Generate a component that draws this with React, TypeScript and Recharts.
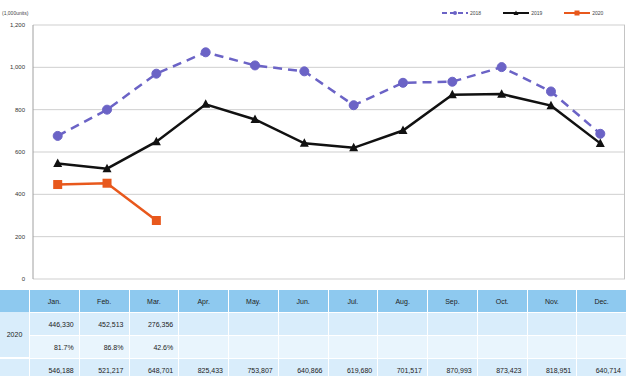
import React from 'react';
import { LineChart, Line, XAxis, YAxis, CartesianGrid } from 'recharts';

const months = ['Jan.', 'Feb.', 'Mar.', 'Apr.', 'May.', 'Jun.', 'Jul.', 'Aug.', 'Sep.', 'Oct.', 'Nov.', 'Dec.'];
const sales2018 = [676, 800, 970, 1071, 1009, 981, 821, 927, 932, 1001, 886, 686];
const sales2019 = [546.188, 521.217, 648.701, 825.433, 753.807, 640.866, 619.68, 701.517, 870.993, 873.423, 818.951, 640.714];
const sales2020 = [446.33, 452.513, 276.356];
const ratio2020 = ['81.7%', '86.8%', '42.6%'];
const yTicks = [0, 200, 400, 600, 800, 1000, 1200];

const data = months.map((m, i) => ({
  month: m,
  y2018: sales2018[i],
  y2019: sales2019[i],
  y2020: i < sales2020.length ? sales2020[i] : null,
}));

const C18 = '#6b63c6';
const C19 = '#111111';
const C20 = '#e8581c';
const FONT = '"Liberation Sans", Arial, sans-serif';

const fmt = (v: number) => Math.round(v * 1000).toLocaleString('en-US');

const CircleDot = (props: any) => {
  const { cx, cy, index } = props;
  if (cx == null || cy == null) return <g key={index} />;
  return <circle key={index} cx={cx} cy={cy} r={4.5} fill={C18} stroke={C18} />;
};

const TriDot = (props: any) => {
  const { cx, cy, index } = props;
  if (cx == null || cy == null) return <g key={index} />;
  return <polygon key={index} points={`${cx},${cy - 5} ${cx - 4.5},${cy + 3.5} ${cx + 4.5},${cy + 3.5}`} fill={C19} />;
};

const SquareDot = (props: any) => {
  const { cx, cy, index } = props;
  if (cx == null || cy == null) return <g key={index} />;
  return <rect key={index} x={cx - 4.5} y={cy - 4.5} width={9} height={9} fill={C20} />;
};

const LegendItem = ({ color, label, dash, marker }: { color: string; label: string; dash?: boolean; marker: string }) => (
  <div style={{ display: 'flex', alignItems: 'center', marginLeft: 22 }}>
    <svg width={26} height={6}>
      <line x1={0} y1={3} x2={26} y2={3} stroke={color} strokeWidth={2} strokeDasharray={dash ? '5 3' : undefined} />
      {marker === 'circle' && <circle cx={13} cy={3} r={2} fill={color} />}
      {marker === 'tri' && <polygon points="13,0.5 10.5,5 15.5,5" fill={color} />}
      {marker === 'sq' && <rect x={10.5} y={0.5} width={5} height={5} fill={color} />}
    </svg>
    <span style={{ fontSize: 5, color: '#444', marginLeft: 2 }}>{label}</span>
  </div>
);

const colW = (627 - 30) / 12;

const Cell = ({ children, bg, align = 'right', w = colW, h = 22 }: any) => (
  <div
    style={{
      width: w,
      height: h,
      background: bg,
      borderRight: '1px solid #ffffff',
      boxSizing: 'border-box',
      display: 'flex',
      alignItems: 'center',
      justifyContent: align === 'center' ? 'center' : 'flex-end',
      paddingRight: align === 'center' ? 0 : 5,
      fontSize: 7,
      color: '#222',
      flexShrink: 0,
    }}
  >
    {children}
  </div>
);

const App: React.FC = () => {
  return (
    <div style={{ position: 'absolute', left: 0, top: 0, width: 627, height: 376, overflow: 'hidden', background: '#fff', fontFamily: FONT }}>
      <div style={{ position: 'absolute', left: 2, top: 10, fontSize: 5, color: '#444' }}>(1,000units)</div>
      <div style={{ position: 'absolute', left: 420, top: 10, display: 'flex' }}>
        <LegendItem color={C18} label="2018" dash marker="circle" />
        <LegendItem color={C19} label="2019" marker="tri" />
        <LegendItem color={C20} label="2020" marker="sq" />
      </div>
      <div style={{ position: 'absolute', left: 0, top: 0 }}>
        <LineChart width={627} height={290} data={data} margin={{ top: 25, right: 2, left: 0, bottom: 11 }}>
          <CartesianGrid vertical={false} stroke="#cfcfcf" />
          <XAxis dataKey="month" hide padding={{ left: 24.7, right: 24.7 }} />
          <YAxis
            domain={[0, 1200]}
            ticks={yTicks}
            width={33}
            tickLine={false}
            axisLine={{ stroke: '#a0a0a0' }}
            tick={{ fontSize: 6, fill: '#333', fontFamily: FONT }}
            tickFormatter={(v: number) => v.toLocaleString('en-US')}
          />
          <Line dataKey="y2018" stroke={C18} strokeWidth={2.5} strokeDasharray="9 6" dot={CircleDot} isAnimationActive={false} />
          <Line dataKey="y2019" stroke={C19} strokeWidth={2.5} dot={TriDot} isAnimationActive={false} />
          <Line dataKey="y2020" stroke={C20} strokeWidth={2.5} dot={SquareDot} isAnimationActive={false} connectNulls={false} />
        </LineChart>
      </div>
      {/* right frame of the plot area */}
      <div style={{ position: 'absolute', left: 624, top: 25, width: 1, height: 254, background: '#c4c4c4' }} />
      <div style={{ position: 'absolute', left: 0, top: 290, width: 627 }}>
        <div style={{ display: 'flex' }}>
          <Cell w={30} bg="#8ec9ef" align="center" />
          {months.map((m) => (
            <Cell key={m} bg="#8ec9ef" align="center">{m}</Cell>
          ))}
        </div>
        <div style={{ display: 'flex', position: 'relative' }}>
          <div style={{ position: 'absolute', left: 0, top: 0, width: 30, height: 45, background: '#d9edfb', display: 'flex', alignItems: 'center', justifyContent: 'center', fontSize: 7, color: '#222', borderRight: '1px solid #fff', boxSizing: 'border-box' }}>2020</div>
          <div style={{ marginLeft: 30, display: 'flex', flexDirection: 'column' }}>
            <div style={{ display: 'flex', borderTop: '1px solid #fff' }}>
              {months.map((m, i) => (
                <Cell key={m} bg="#d9edfb">{i < sales2020.length ? fmt(sales2020[i]) : ''}</Cell>
              ))}
            </div>
            <div style={{ display: 'flex', borderTop: '1px solid #fff' }}>
              {months.map((m, i) => (
                <Cell key={m} bg="#e9f5fd">{i < ratio2020.length ? ratio2020[i] : ''}</Cell>
              ))}
            </div>
          </div>
        </div>
        <div style={{ display: 'flex', position: 'relative', borderTop: '1px solid #fff' }}>
          <div style={{ position: 'absolute', left: 0, top: 0, width: 30, height: 38, background: '#d9edfb', display: 'flex', alignItems: 'center', justifyContent: 'center', fontSize: 7, color: '#222', borderRight: '1px solid #fff', boxSizing: 'border-box' }}>2019</div>
          <div style={{ marginLeft: 30, display: 'flex' }}>
            {months.map((m, i) => (
              <Cell key={m} bg="#d9edfb">{fmt(sales2019[i])}</Cell>
            ))}
          </div>
        </div>
      </div>
    </div>
  );
};

export default App;
